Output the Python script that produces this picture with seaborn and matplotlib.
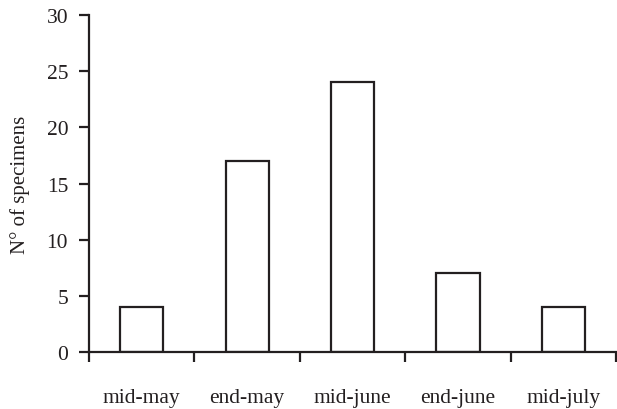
import matplotlib
matplotlib.use("Agg")
import matplotlib.pyplot as plt
import seaborn as sns
import pandas as pd
import numpy as np

periods = ["mid-may", "end-may", "mid-june", "end-june", "mid-july"]
specimens = [4, 17, 24, 7, 4]

sns.set_style("white")
plt.rcParams["font.family"] = ["Liberation Serif", "DejaVu Serif"]

df = pd.DataFrame({"period": periods, "count": specimens})

fig = plt.figure(figsize=(6.17, 4.10), dpi=100)
ax = fig.add_axes([0.1442, 0.139, 0.8545, 0.822])

sns.barplot(data=df, x="period", y="count", ax=ax, color="white",
            edgecolor="#231f20", linewidth=1.6, width=0.41, saturation=1)

ax.set_xlim(-0.5, len(periods) - 0.5)
ax.set_ylim(0, 30)
ax.set_yticks(np.arange(0, 31, 5))

for s in ["top", "right"]:
    ax.spines[s].set_visible(False)
for s in ["left", "bottom"]:
    ax.spines[s].set_color("#231f20")
    ax.spines[s].set_linewidth(1.6)

# category boundaries get the tick marks, labels sit centred below
ax.set_xticks(np.arange(-0.5, len(periods), 1.0), minor=True)
ax.tick_params(axis="x", which="both", bottom=True)
ax.tick_params(axis="y", which="both", left=True)
ax.tick_params(axis="x", which="minor", length=7, width=1.6, color="#231f20", direction="out")
ax.tick_params(axis="x", which="major", length=0, pad=26, labelsize=15.5, labelcolor="#231f20")
ax.tick_params(axis="y", which="major", length=7, width=1.6, color="#231f20",
               direction="out", pad=8, labelsize=15.5, labelcolor="#231f20")
ax.set_xlabel("")
ax.set_ylabel("N° of specimens", fontsize=15, color="#231f20", labelpad=12)

fig.savefig("out.png", dpi=100)
